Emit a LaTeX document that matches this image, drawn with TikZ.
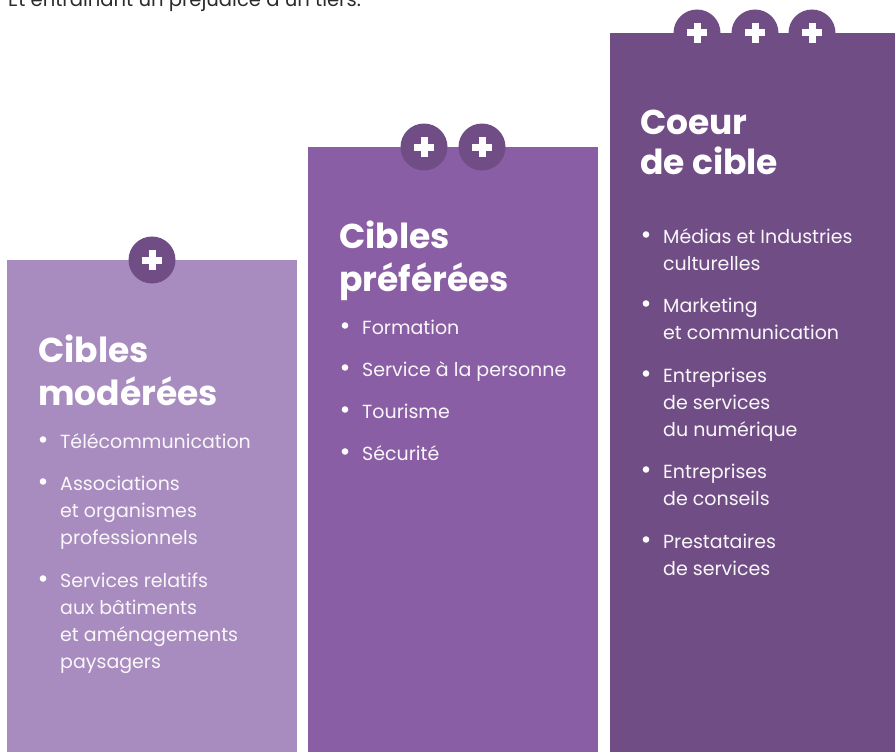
\documentclass[tikz,border=0pt]{standalone}
\usepackage{fontspec}
\setmainfont{Poppins}
\usetikzlibrary{calc}
\definecolor{modere}{HTML}{A98CBF}
\definecolor{prefere}{HTML}{8A5EA4}
\definecolor{coeur}{HTML}{714D86}
\definecolor{encre}{HTML}{2B2B2B}
\tikzset{
	badge/.style={circle,fill=coeur,minimum size=47pt,inner sep=0pt,
		path picture={
			\fill[white] ($(path picture bounding box.center)+(-10pt,-3.5pt)$) rectangle +(20pt,7pt);
			\fill[white] ($(path picture bounding box.center)+(-3.5pt,-10pt)$) rectangle +(7pt,20pt);
		}},
	titre/.style={anchor=base west,text=white,inner sep=0pt,
		font=\fontsize{34.5}{43}\selectfont\bfseries},
	puce/.style={anchor=base west,text=white!95!prefere,inner sep=0pt,
		font=\fontsize{19}{27}\selectfont},
}
% lines in a top-aligned tabular, so that base = first line
\newcommand{\lignes}[1]{\begin{tabular}[t]{@{}l@{}}#1\end{tabular}}
\newcommand{\point}[3]{%
	\node[puce] (#1) at #2 {\lignes{#3}};
	\fill[white] ($(#1.base west)+(-17,-8.5)$) circle (3.3);
}

\begin{document}
\begin{tikzpicture}[x=1pt,y=-1pt]
					\clip (0,0) rectangle (895,752);
					%TOP LINE
					\node[anchor=base west,inner sep=0pt,text=encre,font=\fontsize{19.6}{23}\selectfont] (suite) at (8,7) {Et entraînant un préjudice à un tiers.};
					%COLUMNS
					\fill[modere] (7,260) rectangle (297,752);
					\fill[prefere] (308,147) rectangle (598,752);
					\fill[coeur] (610,33) rectangle (895,752);
					%BADGES
					\node[badge] (p1) at (152,260) {};
					\node[badge] (p2a) at (424,147) {};
					\node[badge] (p2b) at (482,147) {};
					\node[badge] (p3a) at (697,33) {};
					\node[badge] (p3b) at (755,33) {};
					\node[badge] (p3c) at (812,33) {};
					%CIBLES MODEREES
					\node[titre] (t1) at (38,362) {\lignes{Cibles\\modérées}};
					\point{m1}{(60,448)}{Télécommunication}
					\point{m2}{(60,490)}{Associations\\et organismes\\professionnels}
					\point{m3}{(60,587)}{Services relatifs\\aux bâtiments\\et aménagements\\paysagers}
					%CIBLES PREFEREES
					\node[titre] (t2) at (339,248) {\lignes{Cibles\\préférées}};
					\point{f1}{(362,334)}{Formation}
					\point{f2}{(362,376)}{Service à la personne}
					\point{f3}{(362,418)}{Tourisme}
					\point{f4}{(362,460)}{Sécurité}
					%COEUR DE CIBLE
					\node[titre,font=\fontsize{34.5}{39.5}\selectfont\bfseries] (t3) at (640,135) {\lignes{Coeur\\de cible}};
					\point{c1}{(663,243)}{Médias et Industries\\culturelles}
					\point{c2}{(663,312)}{Marketing\\et communication}
					\point{c3}{(663,382)}{Entreprises\\de services\\du numérique}
					\point{c4}{(663,478)}{Entreprises\\de conseils}
					\point{c5}{(663,548)}{Prestataires\\de services}
\end{tikzpicture}
\end{document}
